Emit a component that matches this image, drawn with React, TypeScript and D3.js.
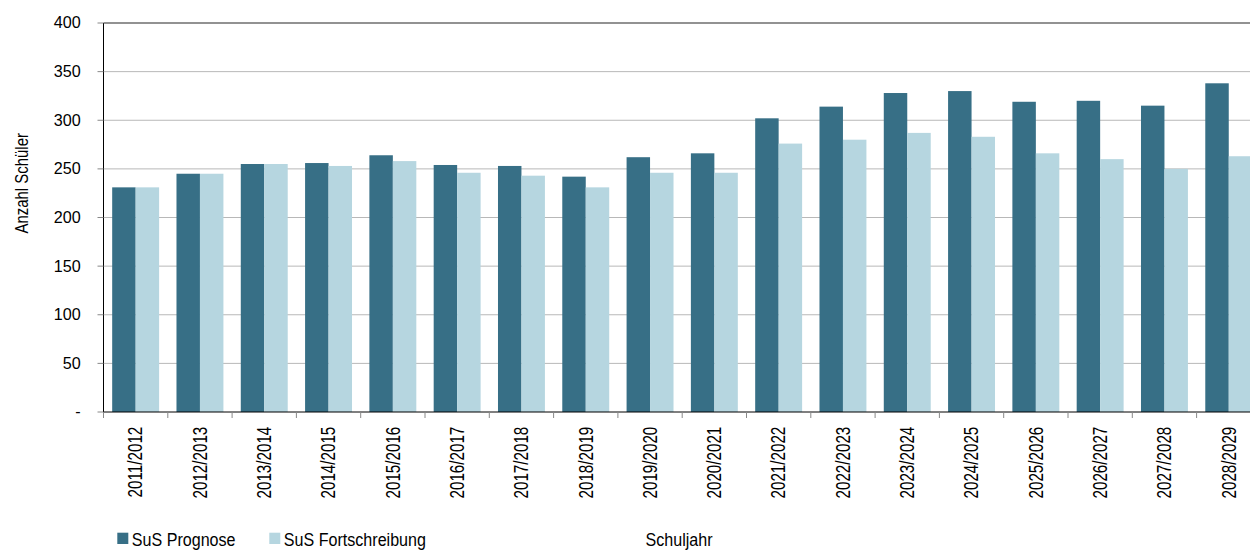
import React from "react";
import * as d3 from "d3";

const categories = [
  "2011/2012", "2012/2013", "2013/2014", "2014/2015", "2015/2016", "2016/2017",
  "2017/2018", "2018/2019", "2019/2020", "2020/2021", "2021/2022", "2022/2023",
  "2023/2024", "2024/2025", "2025/2026", "2026/2027", "2027/2028", "2028/2029",
];
const prognose = [231, 245, 255, 256, 264, 254, 253, 242, 262, 266, 302, 314, 328, 330, 319, 320, 315, 338];
const fortschreibung = [231, 245, 255, 253, 258, 246, 243, 231, 246, 246, 276, 280, 287, 283, 266, 260, 250, 263];
const seriesNames = ["SuS Prognose", "SuS Fortschreibung"];
const seriesColors = ["#376f86", "#b6d6e0"];
const yTicks = [0, 50, 100, 150, 200, 250, 300, 350, 400];

const W = 1250;
const H = 551;
const left = 103.5;
const step = 64.3;
const top = 23;
const bottom = 412;
const font = "'Liberation Sans', Arial, Helvetica, sans-serif";

function CText(props: {
  x: number; y: number; rot?: number; sx?: number; size: number; anchor?: string; dy?: string; children: React.ReactNode;
}) {
  const { x, y, rot = 0, sx = 1, size, anchor = "start", dy, children } = props;
  return (
    <text
      transform={`translate(${x},${y}) rotate(${rot}) scale(${sx},1)`}
      fontSize={size}
      textAnchor={anchor}
      dy={dy}
      fill="#000"
    >
      {children}
    </text>
  );
}

export default function App() {
  const x = d3.scaleBand<string>().domain(categories).range([left, left + step * categories.length]).paddingInner(0).paddingOuter(0);
  const x1 = d3.scaleBand<string>().domain(seriesNames).range([0, x.bandwidth()]).paddingInner(0).paddingOuter(0.37);
  const y = d3.scaleLinear().domain([0, 400]).range([bottom, top]);
  const series = [prognose, fortschreibung];

  return (
    <svg width={W} height={H} style={{ position: "absolute", left: 0, top: 0, background: "#fff" }} fontFamily={font}>
      {/* gridlines */}
      {yTicks.filter((t) => t > 0).map((t) => (
        <line key={t} x1={left} x2={W} y1={y(t)} y2={y(t)} stroke={t === 400 ? "#6e6e6e" : "#b8b8b8"} strokeWidth={t === 400 ? 1.3 : 1} />
      ))}
      {/* bars */}
      {series.map((vals, si) =>
        vals.map((v, i) => (
          <rect
            key={si + "-" + i}
            x={(x(categories[i]) as number) + (x1(seriesNames[si]) as number)}
            y={y(v)}
            width={x1.bandwidth()}
            height={bottom - y(v)}
            fill={seriesColors[si]}
          />
        ))
      )}
      {/* y axis */}
      <line x1={left} x2={left} y1={top} y2={bottom} stroke="#000" strokeWidth={1} />
      {yTicks.map((t) => (
        <g key={t}>
          <line x1={left - 6} x2={left} y1={y(t)} y2={y(t)} stroke="#888" />
          <CText x={80.7} y={y(t) - 0.5} size={17} sx={0.95} anchor="end" dy="0.35em">
            {t === 0 ? "-" : String(t)}
          </CText>
        </g>
      ))}
      {/* x axis */}
      <line x1={left} x2={W} y1={bottom} y2={bottom} stroke="#000" strokeWidth={1} />
      {categories.map((c, i) => (
        <line key={"t" + i} x1={(x(c) as number)} x2={(x(c) as number)} y1={bottom} y2={bottom + 6} stroke="#888" />
      ))}
      {categories.map((c) => {
        const cx = (x(c) as number) + x.bandwidth() / 2;
        return (
          <CText key={c} x={cx + 6.8} y={426.7} rot={-90} sx={0.78} size={19.5} anchor="end">
            {c}
          </CText>
        );
      })}
      {/* axis titles */}
      <CText x={28} y={183.3} rot={-90} sx={0.83} size={18} anchor="middle">
        Anzahl Schüler
      </CText>
      <CText x={679} y={545.5} sx={0.87} size={18.5} anchor="middle">
        Schuljahr
      </CText>
      {/* legend */}
      {seriesNames.map((s, i) => {
        const lx = i === 0 ? 117.3 : 269.3;
        return (
          <g key={s}>
            <rect x={lx} y={532.7} width={11} height={11.3} fill={seriesColors[i]} />
            <CText x={lx + 14.5} y={545.5} sx={0.87} size={18.5}>
              {s}
            </CText>
          </g>
        );
      })}
    </svg>
  );
}
